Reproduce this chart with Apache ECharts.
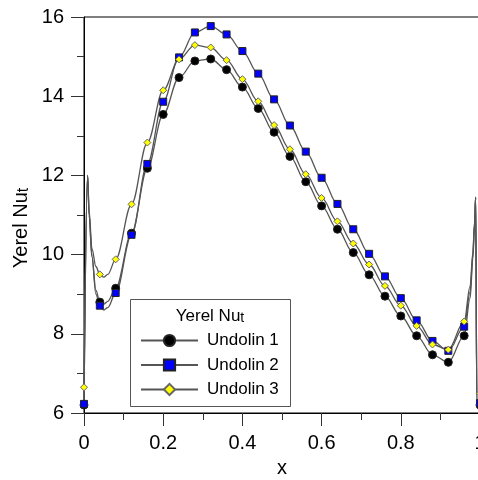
<!DOCTYPE html>
<html><head><meta charset="utf-8">
<script src="https://cdn.jsdelivr.net/npm/echarts@6/dist/echarts.min.js"></script>
<style>html,body{margin:0;padding:0;background:#fff}#c{width:478px;height:480px}</style>
</head><body><div id="c"></div>
<script>
// marker positions (x) and values
const xMarks = [0, 0.04, 0.08, 0.12, 0.16, 0.2, 0.24, 0.28, 0.32, 0.36, 0.4, 0.44, 0.48, 0.52, 0.56, 0.6, 0.64, 0.68, 0.72, 0.76, 0.8, 0.84, 0.88, 0.92, 0.96, 1];
const undolin1 = [6.2, 8.8, 9.15, 10.54, 12.18, 13.54, 14.47, 14.89, 14.94, 14.67, 14.23, 13.69, 13.09, 12.48, 11.84, 11.23, 10.64, 10.05, 9.49, 8.95, 8.45, 7.95, 7.47, 7.28, 7.95, 6.2];
const undolin2 = [6.23, 8.71, 9.03, 10.5, 12.29, 13.86, 14.98, 15.61, 15.77, 15.56, 15.14, 14.57, 13.92, 13.26, 12.6, 11.94, 11.28, 10.64, 10.02, 9.45, 8.9, 8.34, 7.82, 7.57, 8.18, 6.25];
const undolin3 = [6.65, 9.5, 9.88, 11.27, 12.83, 14.15, 14.93, 15.29, 15.23, 14.91, 14.43, 13.87, 13.27, 12.66, 12.03, 11.43, 10.84, 10.28, 9.75, 9.21, 8.71, 8.2, 7.73, 7.6, 8.31, 6.5];
// extra curve points (no marker) read from the picture near the wall spikes
const lineX = [0.009, 0.013, 0.02, 0.03, 0.05, 0.06, 0.975, 0.982, 0.986, 0.989, 0.992];
const line1 = [12.0, 11.0, 9.95, 9.1, 8.75, 8.82, 8.9, 9.9, 10.7, 11.45, 6.3];
const line2 = [12.0, 11.0, 9.95, 9.0, 8.6, 8.66, 9.05, 10.0, 10.75, 11.45, 6.3];
const line3 = [12.0, 11.1, 10.15, 9.7, 9.43, 9.5, 9.2, 10.05, 10.8, 11.45, 6.5];
const names = ['Undolin 1', 'Undolin 2', 'Undolin 3'];
const yTicks = [6, 8, 10, 12, 14, 16];
const xTicks = [0, 0.2, 0.4, 0.6, 0.8, 1];

function build(marks, extra) {
  const pts = xMarks.map((x, i) => ({ value: [x, marks[i]] }));
  lineX.forEach((x, i) => pts.push({ value: [x, extra[i]], symbol: 'none' }));
  pts.sort((a, b) => a.value[0] - b.value[0]);
  return pts;
}
const FONT = '"Liberation Sans", Arial, sans-serif';
const styles = [
  { symbol: 'circle', size: 8, color: '#000000', border: '#222' },
  { symbol: 'rect', size: 7, color: '#0000ff', border: '#222' },
  { symbol: 'diamond', size: 7, color: '#ffff00', border: '#666' }
];
const datas = [build(undolin1, line1), build(undolin2, line2), build(undolin3, line3)];
const chart = echarts.init(document.getElementById('c'), null, { renderer: 'canvas' });
chart.setOption({
  animation: false,
  backgroundColor: '#fff',
  grid: { left: 84, right: -2, top: 17, bottom: 67, outerBoundsMode: 'none', containLabel: false, show: true, borderColor: '#000', borderWidth: 1, backgroundColor: 'transparent' },
  xAxis: {
    type: 'value', min: xTicks[0], max: xTicks[xTicks.length - 1], interval: 0.2,
    axisLine: { lineStyle: { color: '#000', width: 1 } },
    axisTick: { length: 13, lineStyle: { color: '#333' } },
    minorTick: { show: true, splitNumber: 2, length: 7, lineStyle: { color: '#333' } },
    splitLine: { show: false },
    axisLabel: { fontSize: 20, color: '#000', fontFamily: FONT, margin: 20, showMaxLabel: true },
    name: 'x', nameLocation: 'middle', nameGap: 45,
    nameTextStyle: { fontSize: 20, color: '#000', fontFamily: FONT }
  },
  yAxis: {
    type: 'value', min: yTicks[0], max: yTicks[yTicks.length - 1], interval: 2,
    axisLine: { show: true, lineStyle: { color: '#000', width: 1 } },
    axisTick: { show: true, length: 13, lineStyle: { color: '#333' } },
    minorTick: { show: true, splitNumber: 2, length: 7, lineStyle: { color: '#333' } },
    splitLine: { show: false },
    axisLabel: { fontSize: 20, color: '#000', fontFamily: FONT, margin: 20 }
  },
  legend: {
    orient: 'vertical', left: 140, top: 332, padding: 0, itemWidth: 57, itemHeight: 14, itemGap: 7.5,
    data: names,
    textStyle: { fontSize: 17, color: '#000', fontFamily: FONT, padding: [0, 0, 0, 4] }
  },
  graphic: [
    { type: 'rect', z: 3, shape: { x: 130.5, y: 299.5, width: 160, height: 107 }, style: { fill: '#fff', stroke: '#555', lineWidth: 1 } },
    { type: 'text', z: 5, x: 210, y: 316, style: { text: '{a|Yerel Nu}{s|t}', align: 'center', verticalAlign: 'middle', rich: { a: { fontSize: 17, fontFamily: FONT, fill: '#000' }, s: { fontSize: 14, fontFamily: FONT, fill: '#000', padding: [5, 0, 0, 0] } } } },
    { type: 'text', z: 5, x: 21, y: 228, rotation: Math.PI / 2, style: { text: '{a|Yerel Nu}{s|t}', align: 'center', verticalAlign: 'middle', rich: { a: { fontSize: 20, fontFamily: FONT, fill: '#000' }, s: { fontSize: 16, fontFamily: FONT, fill: '#000', padding: [5, 0, 0, 0] } } } }
  ],
  series: names.map((n, i) => ({
    name: n, type: 'line', data: datas[i],
    smooth: 0.35, smoothMonotone: 'x',
    symbol: styles[i].symbol, symbolSize: styles[i].size, showAllSymbol: true,
    lineStyle: { color: '#555', width: 1.3 },
    itemStyle: { color: styles[i].color, borderColor: styles[i].border, borderWidth: 1 },
    emphasis: { disabled: true }
  }))
});
</script></body></html>
